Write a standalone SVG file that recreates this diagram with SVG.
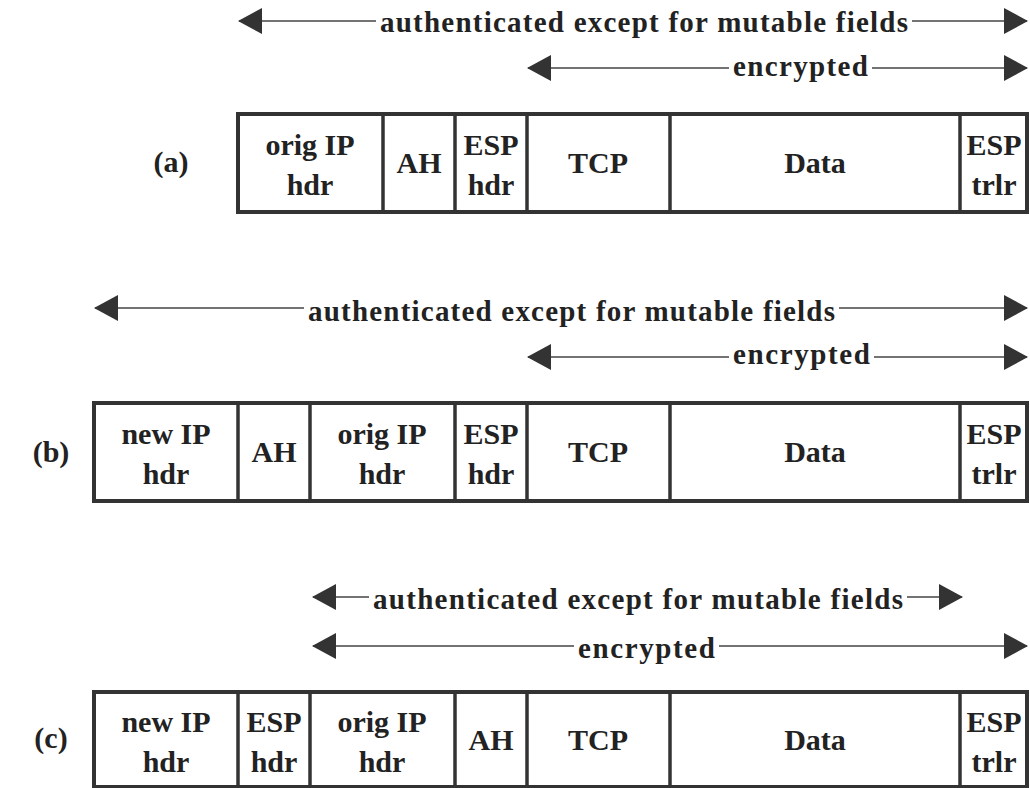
<svg xmlns="http://www.w3.org/2000/svg" width="1030" height="788" viewBox="0 0 1030 788">
<style>
.t{font-family:"Liberation Serif","Times New Roman",serif;font-weight:bold;font-size:30px;fill:#222;text-anchor:middle}
.s{font-family:"Liberation Serif","Times New Roman",serif;font-weight:bold;font-size:29px;fill:#222}
.box{fill:#fff;stroke:#333;stroke-width:4}
.div{stroke:#333;stroke-width:3.5}
.arr{stroke:#444;stroke-width:1.5;fill:none;marker-end:url(#ah)}
</style>
<defs>
<marker id="ah" viewBox="0 0 24 26" refX="23" refY="13" markerWidth="24" markerHeight="26" markerUnits="userSpaceOnUse" orient="auto">
<path d="M0,0 L24,13 L0,26 Z" fill="#333"/>
</marker>
</defs>
<rect width="1030" height="788" fill="#fff"/>
<g id="connectors">
<line class="arr" x1="376" y1="21" x2="239" y2="21"/>
<line class="arr" x1="912" y1="21" x2="1027" y2="21"/>
<line class="arr" x1="729" y1="68" x2="528" y2="68"/>
<line class="arr" x1="872" y1="68" x2="1027" y2="68"/>
<line class="arr" x1="304" y1="308" x2="95" y2="308"/>
<line class="arr" x1="839" y1="308" x2="1027" y2="308"/>
<line class="arr" x1="729" y1="357" x2="528" y2="357"/>
<line class="arr" x1="874" y1="357" x2="1027" y2="357"/>
<line class="arr" x1="369" y1="597" x2="313" y2="597"/>
<line class="arr" x1="907" y1="597" x2="962" y2="597"/>
<line class="arr" x1="574" y1="646" x2="313" y2="646"/>
<line class="arr" x1="719" y1="646" x2="1027" y2="646"/>
</g>
<g id="labels">
<text class="s" x="380" y="32" textLength="528" lengthAdjust="spacing">authenticated except for mutable fields</text>
<text class="s" x="733" y="76" textLength="135" lengthAdjust="spacing">encrypted</text>
<text class="s" x="308" y="321" textLength="527" lengthAdjust="spacing">authenticated except for mutable fields</text>
<text class="s" x="733" y="364" textLength="137" lengthAdjust="spacing">encrypted</text>
<text class="s" x="373" y="609" textLength="530" lengthAdjust="spacing">authenticated except for mutable fields</text>
<text class="s" x="578" y="658" textLength="137" lengthAdjust="spacing">encrypted</text>
<text class="t" x="171" y="172">(a)</text>
<text class="t" x="51" y="462">(b)</text>
<text class="t" x="51" y="748">(c)</text>
</g>
<g id="packet-a">
<rect class="box" x="238" y="114" width="789" height="98"/>
<line class="div" x1="383" y1="114" x2="383" y2="212"/>
<line class="div" x1="455" y1="114" x2="455" y2="212"/>
<line class="div" x1="527" y1="114" x2="527" y2="212"/>
<line class="div" x1="670" y1="114" x2="670" y2="212"/>
<line class="div" x1="960" y1="114" x2="960" y2="212"/>
<text class="t" x="310" y="155">orig IP</text>
<text class="t" x="310" y="195">hdr</text>
<text class="t" x="419" y="173">AH</text>
<text class="t" x="491" y="155">ESP</text>
<text class="t" x="491" y="195">hdr</text>
<text class="t" x="598" y="173">TCP</text>
<text class="t" x="815" y="173">Data</text>
<text class="t" x="994" y="155">ESP</text>
<text class="t" x="994" y="195">trlr</text>
</g>
<g id="packet-b">
<rect class="box" x="94" y="403" width="933" height="98"/>
<line class="div" x1="238" y1="403" x2="238" y2="501"/>
<line class="div" x1="310" y1="403" x2="310" y2="501"/>
<line class="div" x1="455" y1="403" x2="455" y2="501"/>
<line class="div" x1="527" y1="403" x2="527" y2="501"/>
<line class="div" x1="670" y1="403" x2="670" y2="501"/>
<line class="div" x1="960" y1="403" x2="960" y2="501"/>
<text class="t" x="166" y="444">new IP</text>
<text class="t" x="166" y="484">hdr</text>
<text class="t" x="274" y="462">AH</text>
<text class="t" x="382" y="444">orig IP</text>
<text class="t" x="382" y="484">hdr</text>
<text class="t" x="491" y="444">ESP</text>
<text class="t" x="491" y="484">hdr</text>
<text class="t" x="598" y="462">TCP</text>
<text class="t" x="815" y="462">Data</text>
<text class="t" x="994" y="444">ESP</text>
<text class="t" x="994" y="484">trlr</text>
</g>
<g id="packet-c">
<rect class="box" x="94" y="692" width="933" height="95"/>
<line class="div" x1="238" y1="692" x2="238" y2="787"/>
<line class="div" x1="310" y1="692" x2="310" y2="787"/>
<line class="div" x1="455" y1="692" x2="455" y2="787"/>
<line class="div" x1="527" y1="692" x2="527" y2="787"/>
<line class="div" x1="670" y1="692" x2="670" y2="787"/>
<line class="div" x1="960" y1="692" x2="960" y2="787"/>
<text class="t" x="166" y="732">new IP</text>
<text class="t" x="166" y="772">hdr</text>
<text class="t" x="274" y="732">ESP</text>
<text class="t" x="274" y="772">hdr</text>
<text class="t" x="382" y="732">orig IP</text>
<text class="t" x="382" y="772">hdr</text>
<text class="t" x="491" y="750">AH</text>
<text class="t" x="598" y="750">TCP</text>
<text class="t" x="815" y="750">Data</text>
<text class="t" x="994" y="732">ESP</text>
<text class="t" x="994" y="772">trlr</text>
</g>
</svg>
